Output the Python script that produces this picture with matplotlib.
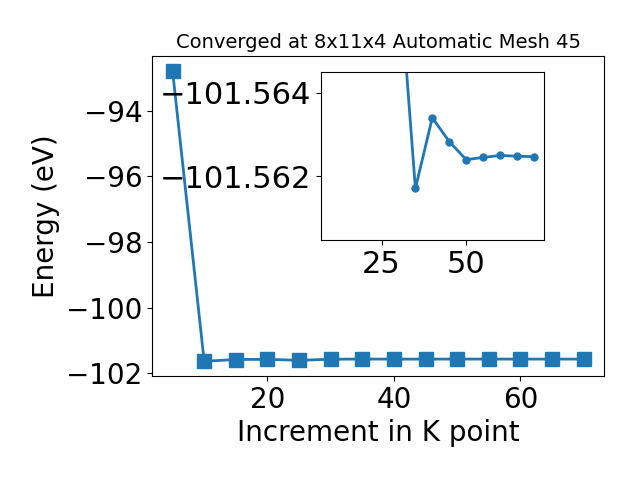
import matplotlib
matplotlib.use("Agg")
import matplotlib.pyplot as plt

kpoints = [5, 10, 15, 20, 25, 30, 35, 40, 45, 50, 55, 60, 65, 70]
energy = [-92.78, -101.63, -101.575, -101.57, -101.60, -101.56704,
          -101.56171, -101.56340, -101.56283, -101.56240, -101.56245,
          -101.56250, -101.56248, -101.56247]

inset_x = kpoints[1:]
inset_y = energy[1:]

fig = plt.figure(figsize=(6.4, 4.8), dpi=100)
ax = fig.add_axes([0.2375, 0.217, 0.7065, 0.666])
ax.plot(kpoints, energy, marker="s", markersize=10, linewidth=2, color="#1f77b4")
ax.set_xlabel("Increment in K point", fontsize=20)
ax.set_ylabel("Energy (eV)", fontsize=20)
ax.set_title("Converged at 8x11x4 Automatic Mesh 45", fontsize=14)
ax.tick_params(labelsize=20)
ax.set_yticks([-102, -100, -98, -96, -94])
ax.set_xticks([20, 40, 60])

axin = fig.add_axes([0.501, 0.5, 0.349, 0.349])
axin.plot(inset_x, inset_y, marker="o", markersize=5, linewidth=2, color="#1f77b4")
axin.set_ylim(-101.56048, -101.56448)
axin.set_yticks([-101.564, -101.562])
axin.ticklabel_format(axis="y", useOffset=False, style="plain")
axin.set_xticks([25, 50])
axin.tick_params(labelsize=22)

fig.savefig("out.png", dpi=100)
